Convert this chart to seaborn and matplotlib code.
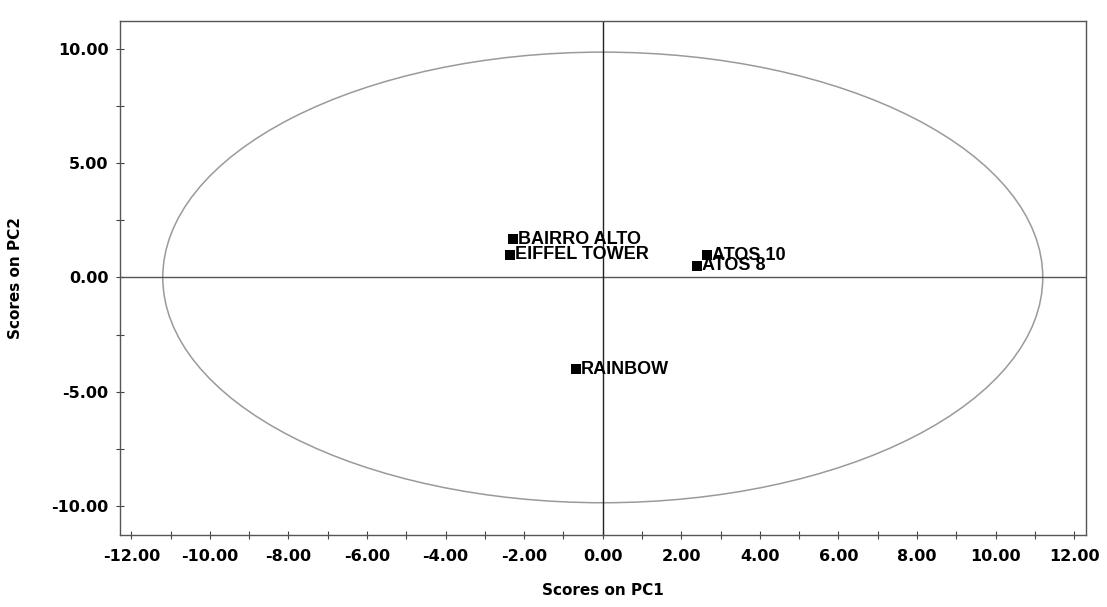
import numpy as np
import pandas as pd
import matplotlib
matplotlib.use("Agg")
import matplotlib.pyplot as plt
from matplotlib.patches import Ellipse
from matplotlib.ticker import MultipleLocator, FormatStrFormatter
import seaborn as sns

# PCA scores of the samples
samples = ["BAIRRO ALTO", "EIFFEL TOWER", "ATOS 10", "ATOS 8", "RAINBOW"]
pc1 = [-2.29, -2.37, 2.65, 2.39, -0.69]
pc2 = [1.66, 1.00, 0.96, 0.52, -4.02]

# Hotelling T2 confidence ellipse (semi-axes on PC1 / PC2)
ellipse_pc1 = 11.2
ellipse_pc2 = 9.85

df = pd.DataFrame({"sample": samples, "PC1": pc1, "PC2": pc2})

sns.set_theme(style="white")
plt.rcParams["font.family"] = ["DejaVu Sans"]

fig = plt.figure(figsize=(11.07, 6.07), dpi=100)
ax = fig.add_axes([0.108, 0.119, 0.873, 0.846])

ax.add_patch(Ellipse((0, 0), 2 * ellipse_pc1, 2 * ellipse_pc2,
                     fill=False, edgecolor="#9a9a9a", lw=1.1, zorder=1))
ax.axhline(0, color="#555555", lw=1.0, zorder=1)
ax.axvline(0, color="#222222", lw=1.0, zorder=1)

sns.scatterplot(data=df, x="PC1", y="PC2", marker="s", s=50,
                color="black", edgecolor="black", linewidth=0, ax=ax, zorder=3)

for name, x, y in zip(samples, pc1, pc2):
    ax.annotate(name, (x, y), xytext=(4, 0), textcoords="offset points",
                ha="left", va="center", fontsize=13, fontweight="bold",
                family="Liberation Sans", color="black", zorder=4)

ax.set_xlim(-12.3, 12.3)
ax.set_ylim(-11.25, 11.2)

ax.xaxis.set_major_locator(MultipleLocator(2))
ax.xaxis.set_minor_locator(MultipleLocator(1))
ax.yaxis.set_major_locator(MultipleLocator(5))
ax.yaxis.set_minor_locator(MultipleLocator(2.5))
ax.xaxis.set_major_formatter(FormatStrFormatter("%.2f"))
ax.yaxis.set_major_formatter(FormatStrFormatter("%.2f"))

ax.tick_params(axis="both", which="both", direction="inout", length=6,
               width=0.8, color="#444444", bottom=True, left=True)
ax.tick_params(axis="x", which="major", pad=7)
ax.tick_params(axis="y", which="major", pad=5)
for lab in ax.get_xticklabels() + ax.get_yticklabels():
    lab.set_fontweight("bold")
    lab.set_fontsize(11.5)
    lab.set_color("black")

for side, spine in ax.spines.items():
    spine.set_visible(True)
    spine.set_color("#555555")
    spine.set_linewidth(1.0)

ax.set_xlabel("Scores on PC1", fontsize=11, fontweight="bold", labelpad=14,
              color="black")
ax.set_ylabel("Scores on PC2", fontsize=11, fontweight="bold", labelpad=20,
              color="black")

fig.savefig("out.png", dpi=100, facecolor="white")
